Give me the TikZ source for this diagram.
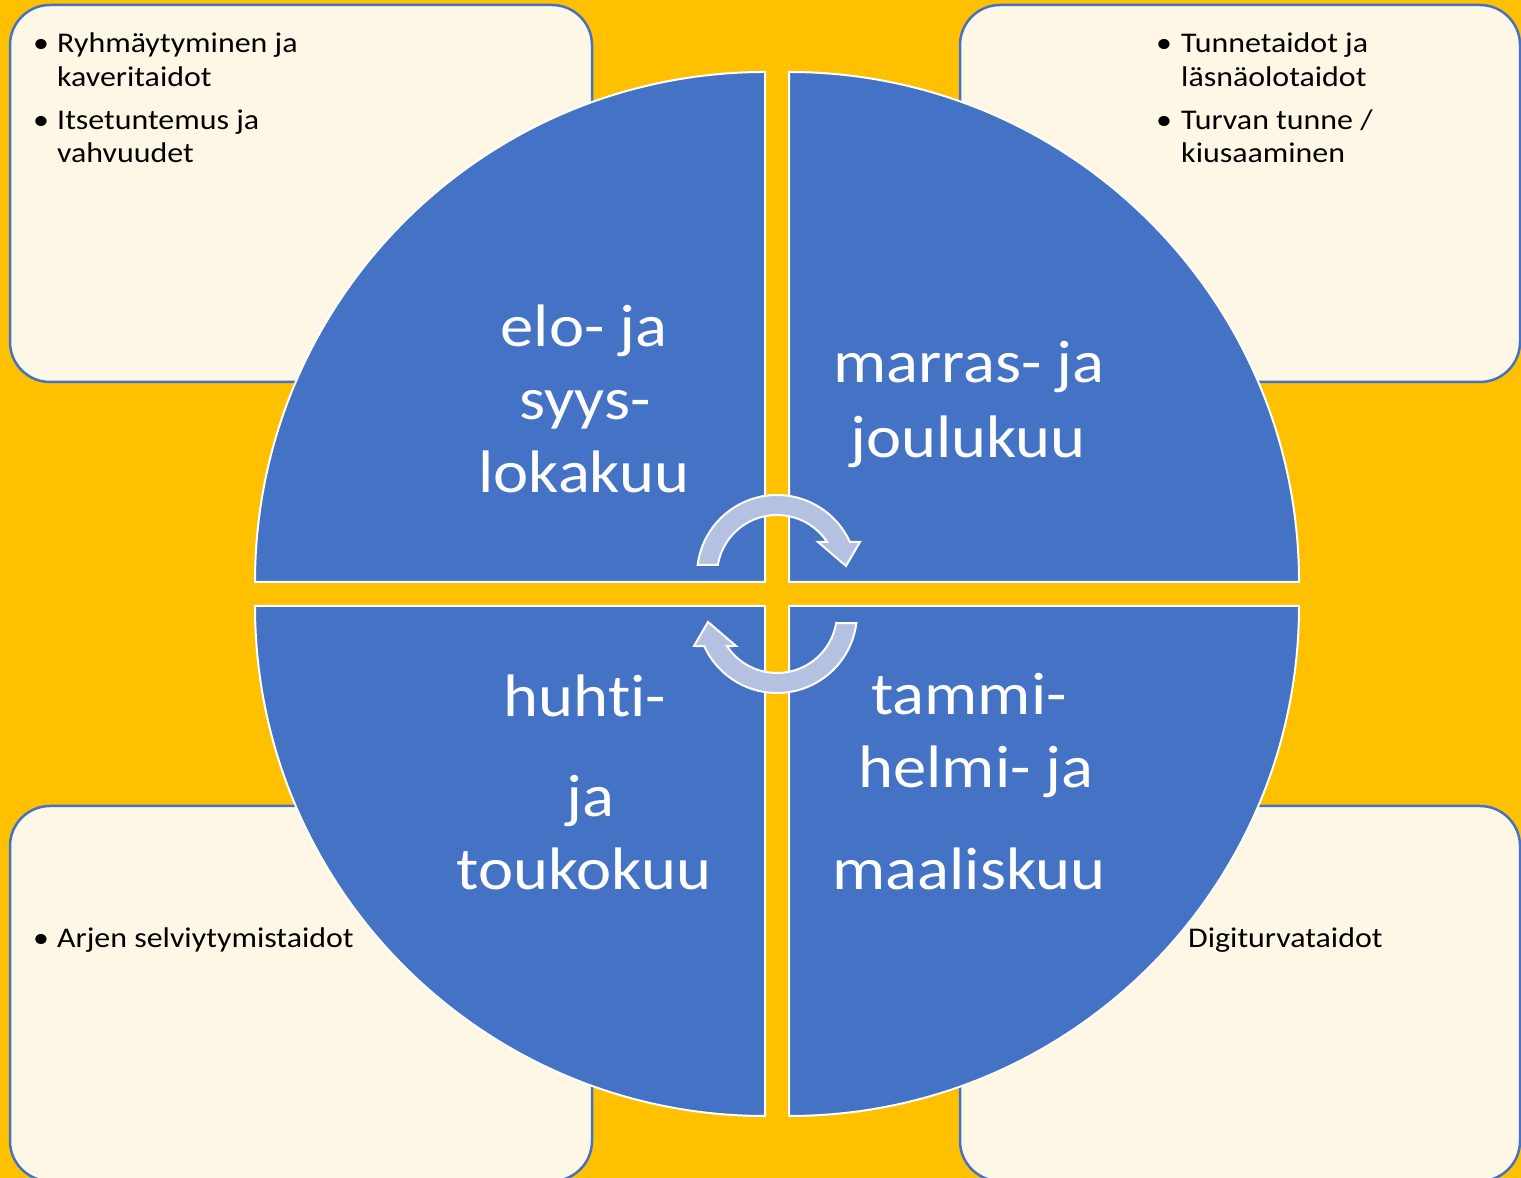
\documentclass[tikz,border=0pt]{standalone}
\usepackage{fontspec}
\setmainfont{Carlito}[RawFeature=-liga]
\definecolor{bg}{HTML}{FFC000}
\definecolor{qblue}{HTML}{4472C4}
\definecolor{cream}{HTML}{FFF7E6}
\definecolor{arrowc}{RGB}{180,193,225}
\begin{document}
\begin{tikzpicture}[x=1pt,y=1pt,
  box/.style={draw=qblue, line width=2.5pt, fill=cream, rounded corners=40pt},
  quad/.style={fill=qblue, draw=white, line width=2pt},
  big/.style={text=white, font=\fontsize{60}{72}\selectfont, inner sep=0pt, anchor=base, xscale=1.11},
  small/.style={text=black, font=\fontsize{28.5}{34}\selectfont, inner sep=0pt, anchor=base west, xscale=1.12},
  bul/.style={text=black, font=\fontsize{28.5}{34}\selectfont, inner sep=0pt, anchor=base, xscale=1.12},
  cyc/.style={fill=arrowc, draw=white, line width=2pt, line join=miter}]
\fill[bg] (0,0) rectangle (1521,1178);
\useasboundingbox (0,0) rectangle (1521,1178);
% corner boxes
\draw[box] (10,796) rectangle (592,1173);
\draw[box] (960,796) rectangle (1520,1173);
\draw[box] (10,-3) rectangle (592,372);
\draw[box] (960,-3) rectangle (1520,372);
% quadrants
\draw[quad] (765,596) -- (765,1106) arc[start angle=90,end angle=180,radius=510] -- cycle;
\draw[quad] (789,596) -- (1299,596) arc[start angle=0,end angle=90,radius=510] -- cycle;
\draw[quad] (765,572) -- (255,572) arc[start angle=180,end angle=270,radius=510] -- cycle;
\draw[quad] (789,572) -- (789,62) arc[start angle=270,end angle=360,radius=510] -- cycle;
% circular arrows
\begin{scope}[shift={(777,603)}]
\draw[cyc] (172.8:80) arc[start angle=172.8,end angle=24.4,radius=80] -- (83,33) -- (69,9) -- (41,33) -- (33.4:60) arc[start angle=33.4,end angle=170.4,radius=60] -- cycle;
\end{scope}
\begin{scope}[shift={(777,565)},rotate=180]
\draw[cyc] (172.8:80) arc[start angle=172.8,end angle=24.4,radius=80] -- (83,33) -- (69,9) -- (41,33) -- (33.4:60) arc[start angle=33.4,end angle=170.4,radius=60] -- cycle;
\end{scope}
% quadrant labels
\node[big] (tl1) at (584,831) {elo- ja};
\node[big] (tl2) at (585,758) {syys-};
\node[big] (tl3) at (584,685) {lokakuu};
\node[big] (tr1) at (969,795) {marras- ja};
\node[big] (tr2) at (968,720) {joulukuu};
\node[big] (bl1) at (585,461) {huhti-};
\node[big] (bl2) at (590,361) {ja};
\node[big] (bl3) at (584,288) {toukokuu};
\node[big] (br1) at (969,463) {tammi-};
\node[big] (br2) at (976,390) {helmi- ja};
\node[big] (br3) at (969,288) {maaliskuu};
% top-left box text
\node[bul] (b1) at (41,1125) {\textbullet};
\node[small] (t1a) at (57,1125) {Ryhmäytyminen ja};
\node[small] (t1b) at (57,1091) {kaveritaidot};
\node[bul] (b2) at (41,1048) {\textbullet};
\node[small] (t2a) at (57,1048) {Itsetuntemus ja};
\node[small] (t2b) at (57,1015) {vahvuudet};
% top-right box text
\node[bul] (b3) at (1164,1125) {\textbullet};
\node[small] (t3a) at (1181,1125) {Tunnetaidot ja};
\node[small] (t3b) at (1181,1091) {läsnäolotaidot};
\node[bul] (b4) at (1164,1048) {\textbullet};
\node[small] (t4a) at (1181,1048) {Turvan tunne /};
\node[small] (t4b) at (1181,1015) {kiusaaminen};
% bottom boxes text
\node[bul] (b5) at (41,230) {\textbullet};
\node[small] (t5) at (57,230) {Arjen selviytymistaidot};
\node[small] (t6) at (1188,230) {Digiturvataidot};
\end{tikzpicture}
\end{document}
